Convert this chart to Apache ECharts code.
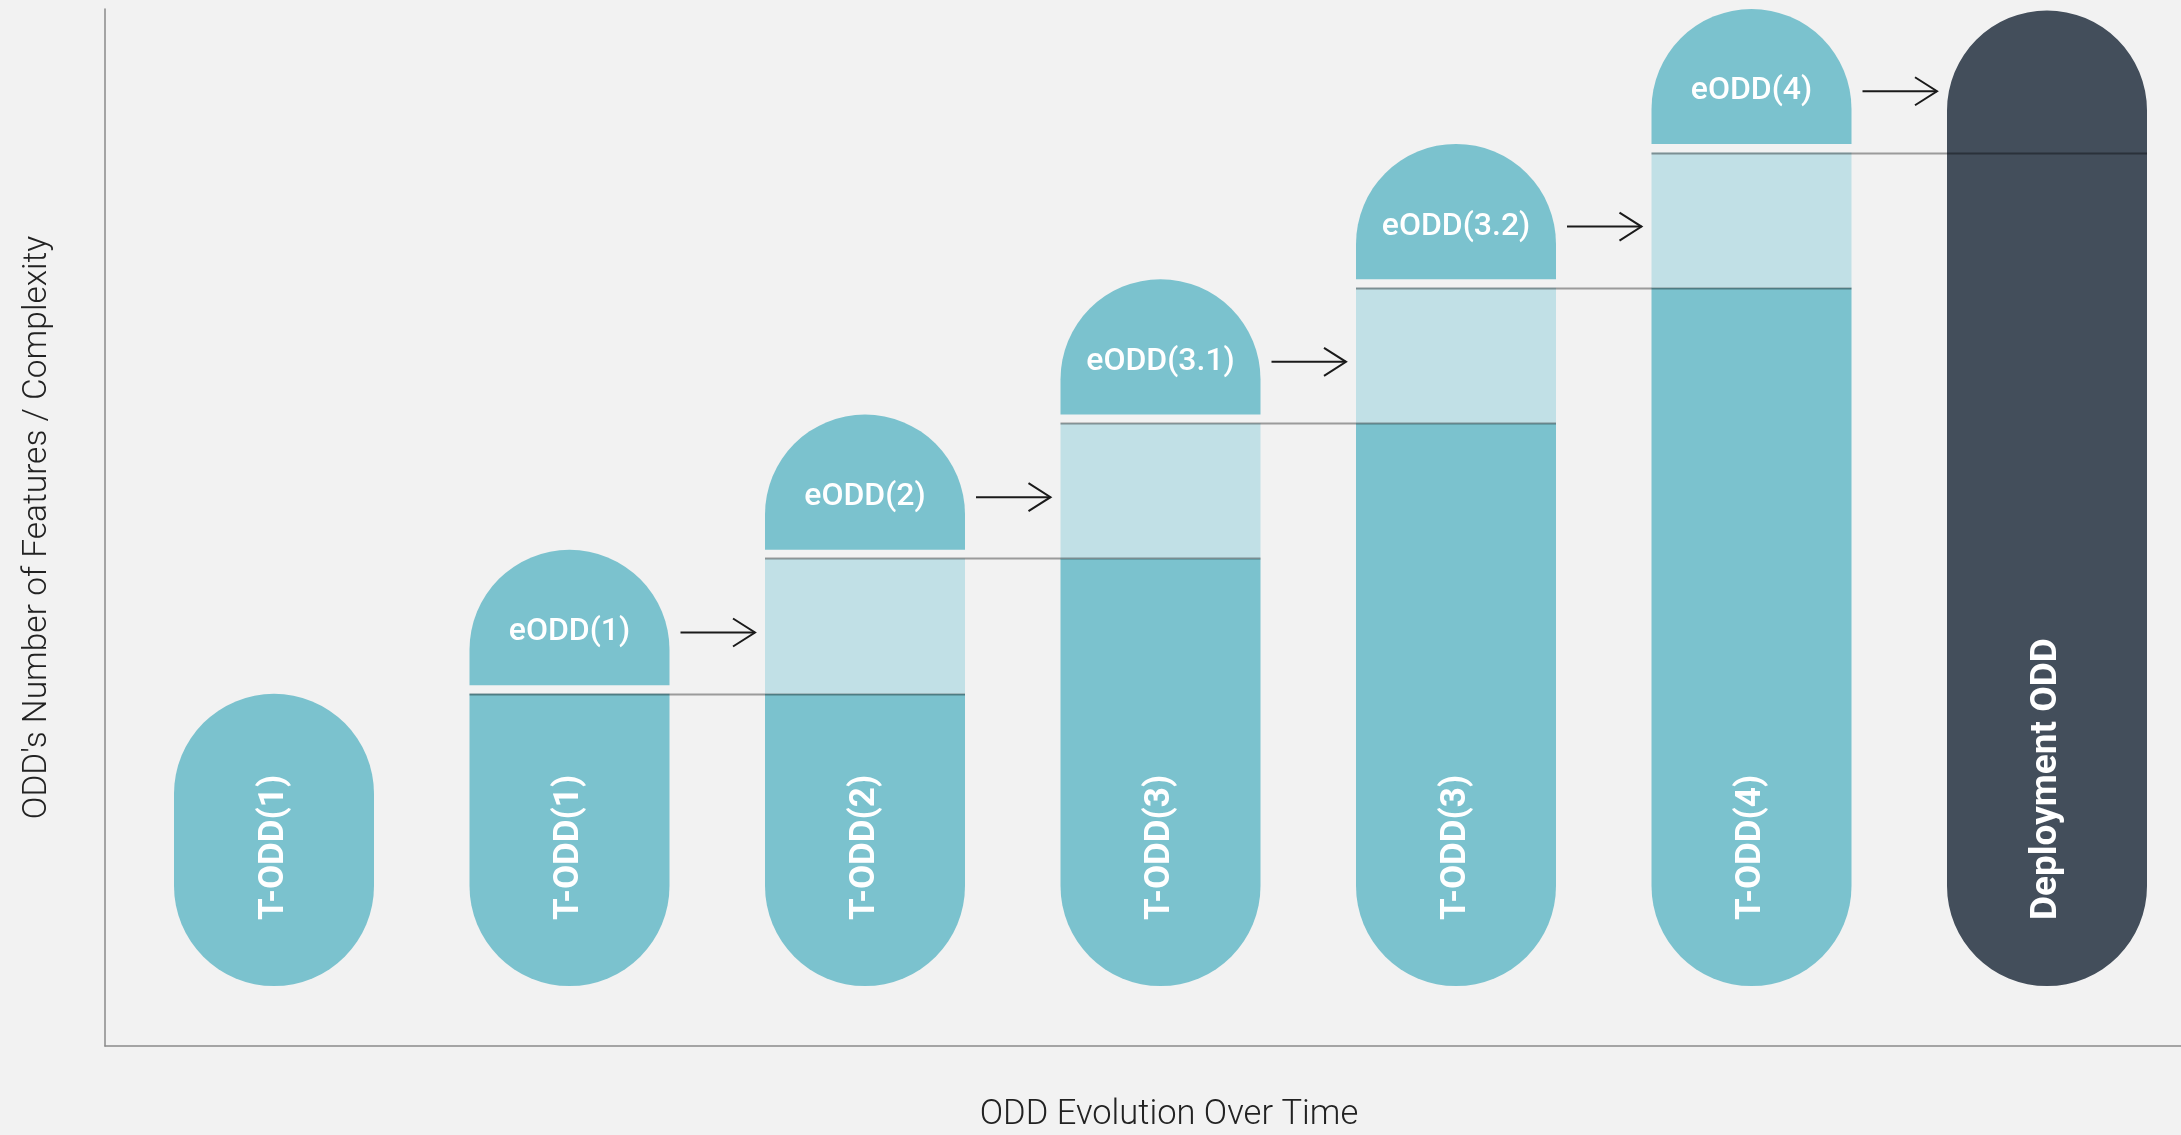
<!DOCTYPE html>
<html><head><meta charset="utf-8">
<script src="https://cdn.jsdelivr.net/npm/echarts@6/dist/echarts.min.js"></script>
<style>html,body{margin:0;padding:0;background:#f2f2f2;} #chart{width:2181px;height:1135px;}</style>
</head><body><div id="chart"></div>
<script>
// ---- data ----
const categories = ['Stage 1', 'Stage 2', 'Stage 3', 'Stage 4', 'Stage 5', 'Stage 6', 'Deployment'];
const tOddLabels = ['T-ODD(1)', 'T-ODD(1)', 'T-ODD(2)', 'T-ODD(3)', 'T-ODD(3)', 'T-ODD(4)', 'Deployment ODD'];
const tOddValues = [2.16, 2.16, 2.16, 3.16, 4.16, 5.16, 7.21];
const extensionValues = [0, 0, 1, 1, 1, 1, 0];
const eOddLabels = ['', 'eODD(1)', 'eODD(2)', 'eODD(3.1)', 'eODD(3.2)', 'eODD(4)', ''];
const eOddValues = [0, 1, 1, 1, 1, 1, 0];
const xAxisTitle = 'ODD Evolution Over Time';
const yAxisTitle = "ODD's Number of Features / Complexity";

// ---- style constants ----
const TEAL = '#7bc2ce', LIGHT = '#c1e0e6', DARK = '#434e5b', BG = '#f2f2f2';
const BAR_W = 200, R = 100, GAP = 0.064;
const Y_MIN = -0.443, Y_MAX = 7.221;
const FONT = 'Roboto';

const n = categories.length;
const gapValues = eOddValues.map(v => v > 0 ? GAP : 0);
const lineData = [];
const arrowData = [];
for (let c = 0; c < n - 1; c++) {
  if (eOddValues[c] > 0) {
    lineData.push([c, tOddValues[c] + extensionValues[c]]);
    arrowData.push([c, tOddValues[c] + extensionValues[c] + gapValues[c] + eOddValues[c] / 2]);
  }
}

const baseData = tOddValues.map((v, i) => {
  const solo = eOddValues[i] === 0 && extensionValues[i] === 0;
  const last = i === n - 1;
  return {
    value: v,
    itemStyle: {
      color: last ? DARK : TEAL,
      borderRadius: solo ? [R, R, R, R] : [0, 0, R, R]
    },
    label: last ? {fontSize: 37} : undefined
  };
});

const chart = echarts.init(document.getElementById('chart'), null, {renderer: 'canvas'});
const option = {
  backgroundColor: BG,
  animation: false,
  grid: [
    {left: 105, right: 0, top: 9, bottom: 89, outerBoundsMode: 'none', containLabel: false},
    {left: 126.25, width: 2068.5, top: 9, bottom: 89, outerBoundsMode: 'none', containLabel: false}
  ],
  xAxis: [
    {
      gridIndex: 0, type: 'value', min: 0, max: 1,
      axisLine: {show: true, onZero: false, lineStyle: {color: '#8a8a8a', width: 1.5}},
      axisTick: {show: false}, axisLabel: {show: false}, splitLine: {show: false},
      name: xAxisTitle, nameLocation: 'middle', nameGap: 52,
      nameTextStyle: {fontFamily: FONT, fontWeight: 300, fontSize: 34.5, color: '#222', padding: [0, 0, 0, 52]}
    },
    {
      gridIndex: 1, type: 'category', data: categories, show: false
    }
  ],
  yAxis: [
    {
      gridIndex: 0, type: 'value', min: Y_MIN, max: Y_MAX,
      axisLine: {show: true, onZero: false, lineStyle: {color: '#8a8a8a', width: 1.5}},
      axisTick: {show: false}, axisLabel: {show: false}, splitLine: {show: false},
      name: yAxisTitle, nameLocation: 'middle', nameGap: 50,
      nameTextStyle: {fontFamily: FONT, fontWeight: 300, fontSize: 33.5, color: '#222'}
    },
    {
      gridIndex: 1, type: 'value', min: Y_MIN, max: Y_MAX, show: false
    }
  ],
  series: [
    {
      type: 'bar', name: 'T-ODD', xAxisIndex: 1, yAxisIndex: 1, stack: 'odd',
      barWidth: BAR_W, data: baseData,
      label: {
        show: true, position: 'insideBottom', distance: 66, rotate: 90,
        align: 'left', verticalAlign: 'middle',
        fontFamily: FONT, fontWeight: 'bold', fontSize: 35, color: '#ffffff',
        formatter: p => tOddLabels[p.dataIndex]
      },
      z: 2
    },
    {
      type: 'bar', name: 'Extension', xAxisIndex: 1, yAxisIndex: 1, stack: 'odd',
      barWidth: BAR_W, data: extensionValues,
      itemStyle: {color: LIGHT}, z: 2
    },
    {
      type: 'bar', name: 'gap', xAxisIndex: 1, yAxisIndex: 1, stack: 'odd',
      barWidth: BAR_W, data: gapValues,
      itemStyle: {color: 'rgba(0,0,0,0)'}, z: 2, silent: true
    },
    {
      type: 'bar', name: 'eODD', xAxisIndex: 1, yAxisIndex: 1, stack: 'odd',
      barWidth: BAR_W, data: eOddValues,
      itemStyle: {color: TEAL, borderRadius: [R, R, 0, 0]},
      label: {
        show: true, position: 'inside', offset: [0, 15],
        fontFamily: FONT, fontWeight: 500, fontSize: 32, color: '#ffffff',
        formatter: p => eOddLabels[p.dataIndex]
      },
      z: 2
    },
    {
      type: 'custom', name: 'levels', xAxisIndex: 1, yAxisIndex: 1, data: lineData, z: 5,
      renderItem: function (params, api) {
        const c = api.value(0), lvl = api.value(1);
        const p1 = api.coord([c, lvl]);
        const p2 = api.coord([c + 1, lvl]);
        return {
          type: 'line',
          shape: {x1: p1[0] - BAR_W / 2, y1: Math.round(p1[1]) + 0.5, x2: p2[0] + BAR_W / 2, y2: Math.round(p2[1]) + 0.5},
          style: {stroke: 'rgba(0,0,0,0.36)', lineWidth: 2}
        };
      }
    },
    {
      type: 'custom', name: 'arrows', xAxisIndex: 1, yAxisIndex: 1, data: arrowData, z: 5,
      renderItem: function (params, api) {
        const c = api.value(0), v = api.value(1);
        const p1 = api.coord([c, v]);
        const p2 = api.coord([c + 1, v]);
        const x1 = p1[0] + BAR_W / 2 + 11;
        const x2 = p2[0] - BAR_W / 2 - 10;
        const y = p1[1] + 15;
        return {
          type: 'group',
          children: [
            {type: 'line', shape: {x1: x1, y1: y, x2: x2, y2: y}, style: {stroke: '#1a1a1a', lineWidth: 2}},
            {type: 'polyline', shape: {points: [[x2 - 22, y - 14], [x2, y], [x2 - 22, y + 14]]},
             style: {stroke: '#1a1a1a', lineWidth: 2, fill: null}}
          ]
        };
      }
    }
  ]
};
chart.setOption(option);
</script>
</body></html>
